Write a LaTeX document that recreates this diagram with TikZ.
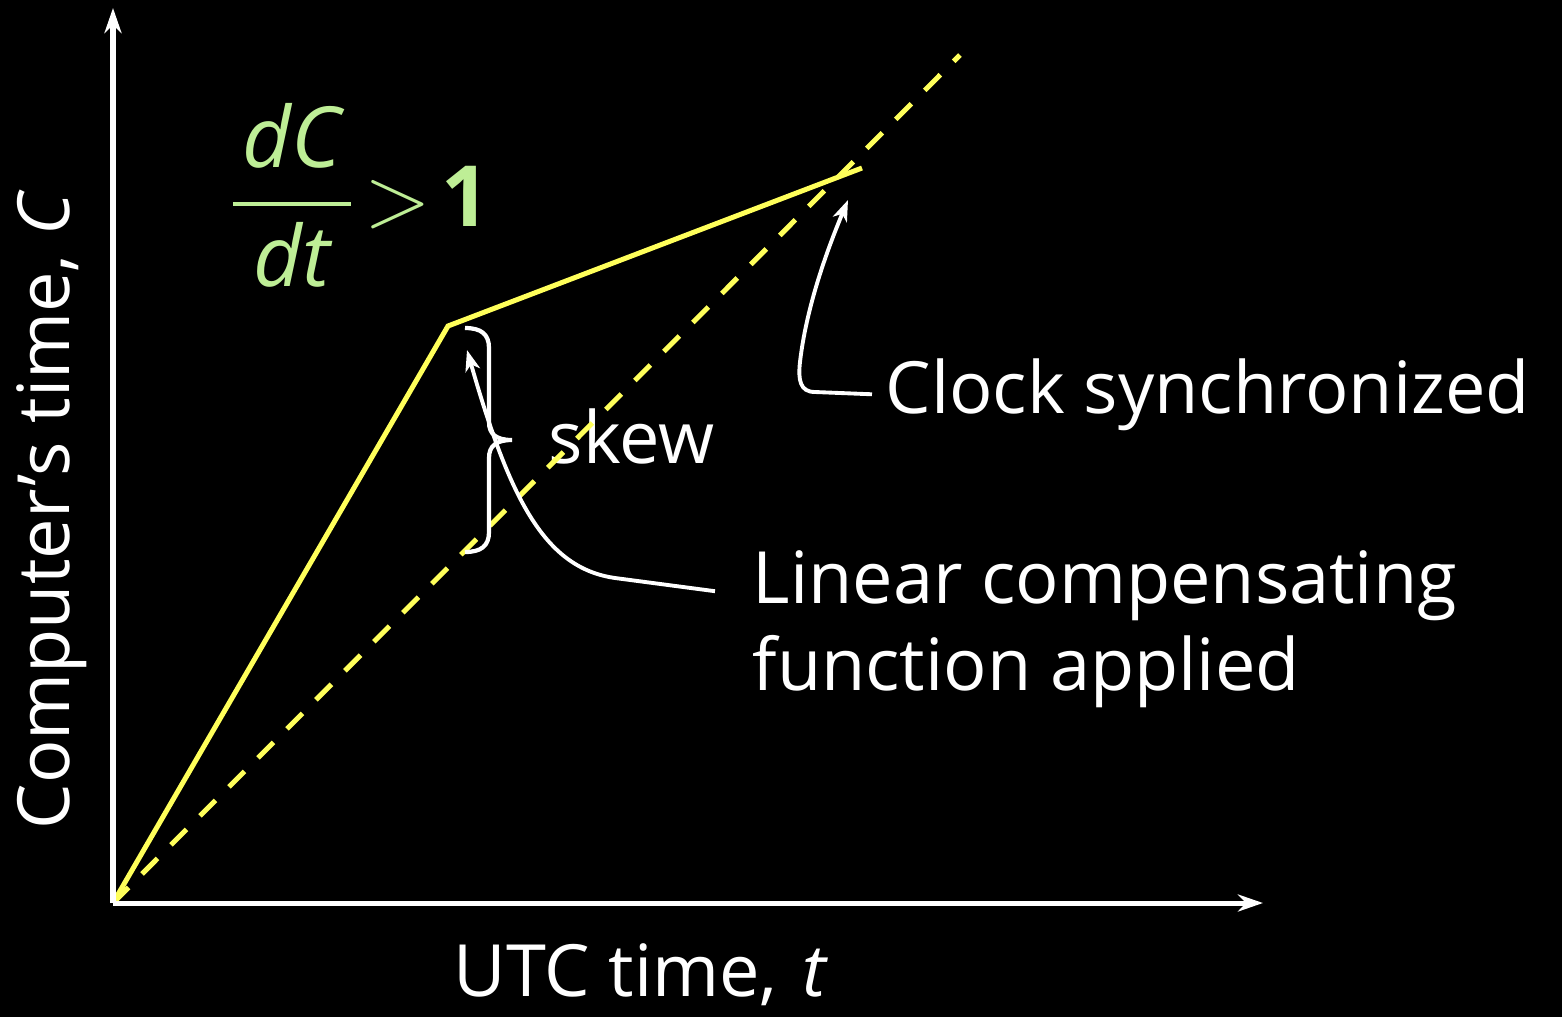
\documentclass[tikz,border=0pt]{standalone}
\usepackage{fontspec}
\setmainfont{Open Sans}
\usetikzlibrary{arrows.meta}
\definecolor{ylw}{RGB}{255,255,90}
\definecolor{grn}{RGB}{190,238,150}
\tikzset{
  lbl/.style={text=white, font=\fontsize{20.5pt}{24.7pt}\selectfont, inner sep=0pt},
  axisline/.style={white, line width=0.05cm, -{Stealth[length=0.25cm,width=0.17cm,inset=0.08cm]}},
  ptr/.style={white, line width=1.1pt, -{Stealth[length=0.21cm,width=0.15cm,inset=0.06cm]}},
  clkline/.style={ylw, line width=0.05cm},
  refline/.style={ylw, line width=0.05cm, dash pattern=on 0.22cm off 0.19cm},
  bracepath/.style={white, line width=1.2pt},
}
\begin{document}
\begin{tikzpicture}[x=0.01cm,y=-0.01cm]
\fill[black] (0,0) rectangle (1562,1017);
\useasboundingbox (0,0) rectangle (1562,1017);

% key points
\coordinate (O) at (113,903);
\coordinate (ytop) at (113,8);
\coordinate (xend) at (1263,903);
\coordinate (K) at (448,326);
\coordinate (S) at (862,168);
\coordinate (D) at (960,55);

% labels
\node[lbl, anchor=base west, rotate=90] (ylab) at (70,830) {Computer's time, \textit{C}};
\node[lbl, anchor=base west] (xlab) at (453,996) {UTC time,\hspace{0.35em}\textit{t}};
\node[lbl, anchor=base west] (skew) at (548,463) {skew};
\node[lbl, anchor=base west] (clk) at (885,413) {Clock synchronized};
\node[lbl, anchor=base west] (lin1) at (752,603) {Linear compensating};
\node[lbl, anchor=base west] (lin2) at (752,690) {function applied};
\node[text=grn, font=\fontsize{24pt}{28pt}\selectfont, inner sep=0pt] (rate) at (359,195)
  {\thickmuskip=2mu $\displaystyle{\mkern2mu\textit{dC}\mkern2mu\above 1.1pt\mkern2mu\textit{dt}\mkern2mu}>\mathbf{1}$};

% reference (dashed) and clock (solid) lines
\draw[refline] (O) -- (D);
\draw[clkline] (O) -- (K) -- (S);

% axes
\draw[axisline] (O) -- (ytop);
\draw[axisline] (O) -- (xend);

% brace for skew
\draw[bracepath] (465,328) .. controls (481,328) and (489,334) .. (489,348) -- (489,422)
  .. controls (489,434) and (496,440) .. (512,440)
  .. controls (496,440) and (489,446) .. (489,458) -- (489,532)
  .. controls (489,546) and (481,552) .. (465,552);

% pointers
\draw[ptr] ([shift={(-37,6)}]lin1.west) -- (615,578) .. controls (545,568) and (510,500) .. (467,350);
\draw[ptr] ([xshift=-0.13cm]clk.west) -- (815,392) .. controls (800,392) and (798,380) .. (800,362)
  .. controls (806,310) and (825,255) .. (848,200);
\end{tikzpicture}
\end{document}
